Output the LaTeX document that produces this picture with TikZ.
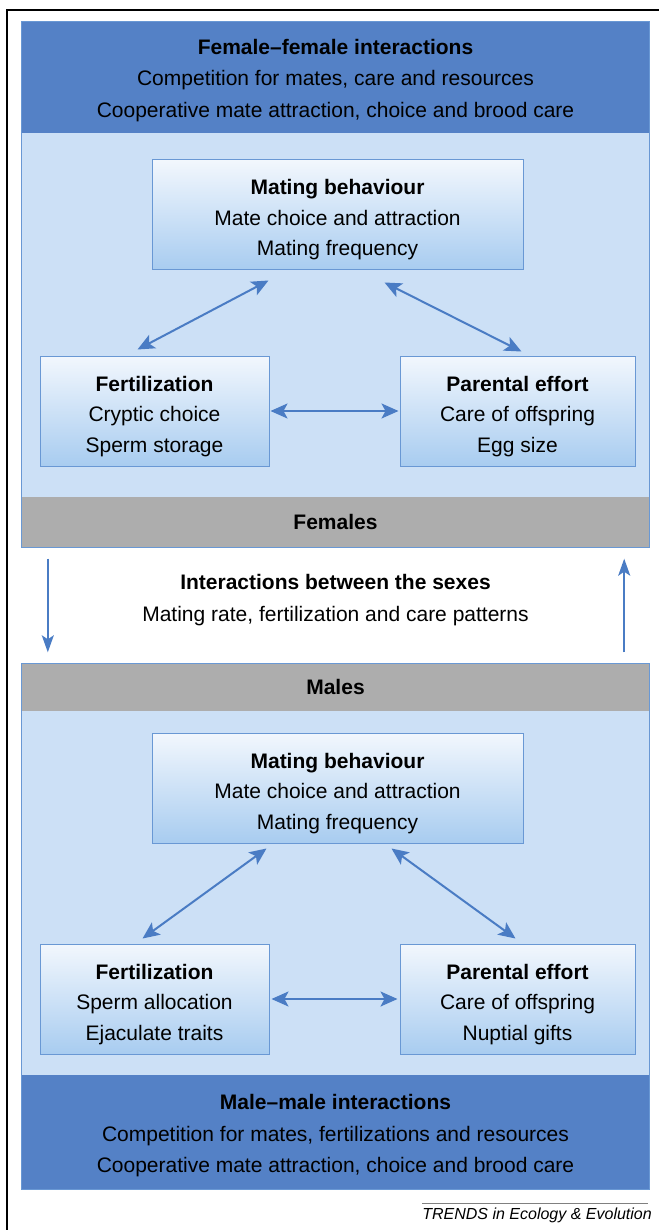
\documentclass[tikz,border=0pt]{standalone}
\usepackage{fontspec}
\setmainfont{Liberation Sans}
\usetikzlibrary{arrows.meta}
\definecolor{bandblue}{RGB}{84,129,198}
\definecolor{paleblue}{RGB}{204,224,246}
\definecolor{boxtop}{RGB}{242,247,253}
\definecolor{boxbottom}{RGB}{168,204,240}
\definecolor{edgeblue}{RGB}{105,152,212}
\definecolor{arrowblue}{RGB}{74,124,196}
\definecolor{bargray}{RGB}{173,173,173}
\begin{document}
\begin{tikzpicture}[x=1pt,y=-1pt,
    txt/.style={align=center,font=\fontsize{21}{30.5}\selectfont,inner sep=0pt},
    headtxt/.style={align=center,font=\fontsize{21}{31.5}\selectfont,inner sep=0pt},
    panel/.style={draw=none,fill=paleblue,minimum width=627pt,minimum height=526pt,inner sep=0pt},
    topic/.style={draw=edgeblue,line width=1pt,top color=boxtop,bottom color=boxbottom,
        align=center,font=\fontsize{21}{30.5}\selectfont,minimum height=110pt,inner sep=0pt,
        text height=82pt,text depth=0pt},
    link/.style={draw=arrowblue,line width=2pt,{Stealth[length=17pt,width=15pt,inset=4pt]}-{Stealth[length=17pt,width=15pt,inset=4pt]}},
    flow/.style={draw=arrowblue,line width=2pt,-{Stealth[length=17pt,width=12pt,inset=4pt]}}]
\useasboundingbox (0,0) rectangle (658,1230);
% outer frame
\draw[line width=1.5pt] (7,1231) -- (7,10) -- (659,10);

% females
\node[panel] (fem) at (335.5,284.5) {};
\fill[bandblue] (fem.north west) rectangle (649,133);
\fill[bargray] (22,497) rectangle (fem.south east);
\draw[edgeblue,line width=1pt] (fem.north west) rectangle (fem.south east);
\node[headtxt] (femHead) at (335.5,80.5) {\textbf{Female--female interactions}\\Competition for mates, care and resources\\Cooperative mate attraction, choice and brood care};
\node[txt] (femLabel) at (335.5,522) {\textbf{Females}};

\node[topic,minimum width=371pt] (mateF) at (337.5,215) {\textbf{Mating behaviour}\\Mate choice and attraction\\Mating frequency};
\node[topic,minimum width=229pt] (fertF) at (154.5,411) {\textbf{Fertilization}\\Cryptic choice\\Sperm storage};
\node[topic,minimum width=235pt] (parF) at (517.5,411) {\textbf{Parental effort}\\Care of offspring\\Egg size};

\draw[link] ([xshift=-17pt,yshift=6pt]fertF.north) -- ([xshift=-69pt,yshift=-10pt]mateF.south);
\draw[link] ([xshift=47pt,yshift=-12pt]mateF.south) -- ([xshift=4pt,yshift=4pt]parF.north);
\draw[link,shorten <=1pt,shorten >=1pt] (fertF.east) -- (parF.west);

% between the sexes
\node[panel] (male) at (335.5,926.5) {};
\node[headtxt] (between) at (335.5,600) {\textbf{Interactions between the sexes}\\Mating rate, fertilization and care patterns};
\draw[flow] ([xshift=26pt,yshift=-11pt]fem.south west) -- ([xshift=26pt,yshift=11pt]male.north west);
\draw[flow] ([xshift=-25pt,yshift=11pt]male.north east) -- ([xshift=-25pt,yshift=-11pt]fem.south east);

% males
\fill[bargray] (male.north west) rectangle (649,711);
\fill[bandblue] (22,1075) rectangle (male.south east);
\draw[edgeblue,line width=1pt] (male.north west) rectangle (male.south east);
\node[txt] (maleLabel) at (335.5,687) {\textbf{Males}};
\node[headtxt] (maleHead) at (335.5,1136) {\textbf{Male--male interactions}\\Competition for mates, fertilizations and resources\\Cooperative mate attraction, choice and brood care};

\node[topic,minimum width=371pt] (mateM) at (337.5,788) {\textbf{Mating behaviour}\\Mate choice and attraction\\Mating frequency};
\node[topic,minimum width=229pt] (fertM) at (154.5,999) {\textbf{Fertilization}\\Sperm allocation\\Ejaculate traits};
\node[topic,minimum width=235pt] (parM) at (517.5,999) {\textbf{Parental effort}\\Care of offspring\\Nuptial gifts};

\draw[link] ([xshift=-12pt,yshift=5pt]fertM.north) -- ([xshift=-71pt,yshift=-5pt]mateM.south);
\draw[link] ([xshift=54pt,yshift=-5pt]mateM.south) -- ([xshift=-2pt,yshift=5pt]parM.north);
\draw[link,shorten <=2pt,shorten >=2pt] (fertM.east) -- (parM.west);

% credit
\node[anchor=base east,font=\fontsize{16}{18}\selectfont\itshape,inner sep=0pt] (credit) at (652,1219) {TRENDS in Ecology \& Evolution};
\draw[gray,line width=0.8pt] (422,1203) -- (648,1203);
\end{tikzpicture}
\end{document}
